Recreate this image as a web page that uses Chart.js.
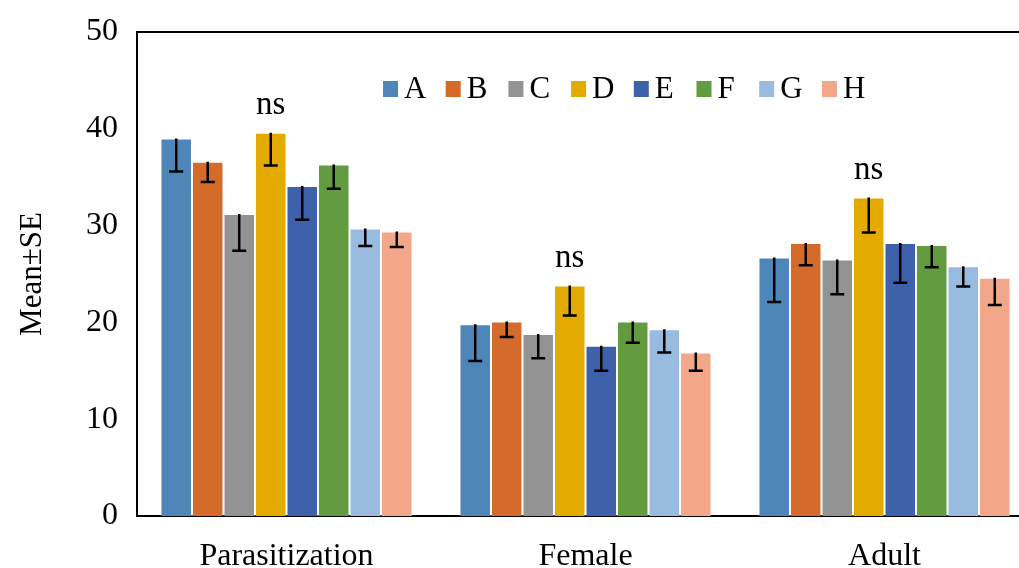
<!DOCTYPE html>
<html>
<head>
<meta charset="utf-8">
<script src="https://cdn.jsdelivr.net/npm/chart.js@4"></script>
<style>
  html, body { margin: 0; padding: 0; background: #fff; overflow: hidden; }
  #wrap { width: 1036px; height: 568px; position: relative; }
</style>
</head>
<body>
<div id="wrap"><canvas id="grafico"></canvas></div>
<script>
// categorias e series (media e erro padrao, so para baixo)
const categorias = ['Parasitization', 'Female', 'Adult'];
const series = ['A', 'B', 'C', 'D', 'E', 'F', 'G', 'H'];
const cores = ['#4F86BA', '#D46B2A', '#939393', '#E3AB00', '#3D62AB', '#629B40', '#9ABBE0', '#F2A78A'];

const mediaA = [39.0, 19.8, 26.7];
const mediaB = [36.6, 20.1, 28.2];
const mediaC = [31.2, 18.8, 26.5];
const mediaD = [39.6, 23.8, 32.9];
const mediaE = [34.1, 17.6, 28.2];
const mediaF = [36.3, 20.1, 28.0];
const mediaG = [29.7, 19.3, 25.8];
const mediaH = [29.4, 16.9, 24.6];

const erroA = [3.4, 3.8, 4.6];
const erroB = [2.1, 1.6, 2.3];
const erroC = [3.8, 2.5, 3.6];
const erroD = [3.4, 3.1, 3.6];
const erroE = [3.5, 2.6, 4.1];
const erroF = [2.5, 2.2, 2.3];
const erroG = [1.8, 2.4, 2.1];
const erroH = [1.6, 1.9, 2.8];

// rotulo de significancia sobre a barra D
const rotuloNs = ['ns', 'ns', 'ns'];
const serieNs = 3;

const medias = [mediaA, mediaB, mediaC, mediaD, mediaE, mediaF, mediaG, mediaH];
const erros = [erroA, erroB, erroC, erroD, erroE, erroF, erroG, erroH];

const fonte = 'Liberation Serif, Times New Roman, serif';

const barrasErro = {
  id: 'barrasErro',
  afterDatasetsDraw(chart) {
    const ctx = chart.ctx;
    const y = chart.scales.y;
    ctx.save();
    ctx.strokeStyle = '#000';
    ctx.lineWidth = 2.5;
    chart.data.datasets.forEach((ds, i) => {
      const meta = chart.getDatasetMeta(i);
      meta.data.forEach((bar, j) => {
        const topo = y.getPixelForValue(ds.data[j]);
        const baixo = y.getPixelForValue(ds.data[j] - ds.erro[j]);
        ctx.beginPath();
        ctx.moveTo(bar.x, topo);
        ctx.lineTo(bar.x, baixo);
        ctx.moveTo(bar.x - 7, baixo);
        ctx.lineTo(bar.x + 7, baixo);
        ctx.stroke();
      });
    });
    // textos "ns"
    const metaNs = chart.getDatasetMeta(serieNs);
    ctx.fillStyle = '#000';
    ctx.font = '33px ' + fonte;
    ctx.textAlign = 'center';
    ctx.textBaseline = 'middle';
    metaNs.data.forEach((bar, j) => {
      ctx.fillText(rotuloNs[j], bar.x, bar.y - 27);
    });
    // linha de cima da moldura
    const a = chart.chartArea;
    ctx.lineWidth = 2;
    ctx.beginPath();
    ctx.moveTo(a.left - 1, a.top);
    ctx.lineTo(a.right, a.top);
    ctx.stroke();
    ctx.restore();
  }
};

const legendaInterna = {
  id: 'legendaInterna',
  afterDraw(chart) {
    const ctx = chart.ctx;
    ctx.save();
    ctx.font = '31px ' + fonte;
    ctx.textBaseline = 'middle';
    ctx.textAlign = 'left';
    let x = 383;
    const yc = 89;
    chart.data.datasets.forEach(ds => {
      ctx.fillStyle = ds.backgroundColor;
      ctx.fillRect(x, yc - 8, 15, 16);
      ctx.fillStyle = '#000';
      ctx.fillText(ds.label, x + 21, yc + 1);
      x += 62.7;
    });
    ctx.restore();
  }
};

new Chart(document.getElementById('grafico'), {
  type: 'bar',
  data: {
    labels: categorias,
    datasets: series.map((s, i) => ({
      label: s,
      data: medias[i],
      erro: erros[i],
      backgroundColor: cores[i],
      borderColor: 'rgba(255,255,255,0.35)',
      borderWidth: 1,
      barPercentage: 1,
      categoryPercentage: 0.843
    }))
  },
  options: {
    responsive: true,
    maintainAspectRatio: false,
    animation: false,
    layout: { padding: { top: 32, right: 2, left: 0, bottom: 0 } },
    plugins: { legend: { display: false }, tooltip: { enabled: false } },
    scales: {
      x: {
        grid: { display: false, drawTicks: false },
        border: { color: '#000', width: 2 },
        ticks: { color: '#000', font: { family: fonte, size: 32 }, padding: 21 },
        afterFit(scale) { scale.height = 52; scale.paddingLeft = 0; scale.paddingRight = 0; }
      },
      y: {
        min: 0,
        max: 50,
        grid: { display: false, drawTicks: false },
        border: { color: '#000', width: 2 },
        ticks: { stepSize: 10, color: '#000', font: { family: fonte, size: 32 }, padding: 19 },
        title: { display: true, text: 'Mean±SE', color: '#000', font: { family: fonte, size: 31 }, padding: { top: 14, bottom: 4 } },
        afterFit(scale) { scale.width = 137; scale.paddingTop = 0; scale.paddingBottom = 0; }
      }
    }
  },
  plugins: [barrasErro, legendaInterna]
});
</script>
</body>
</html>
